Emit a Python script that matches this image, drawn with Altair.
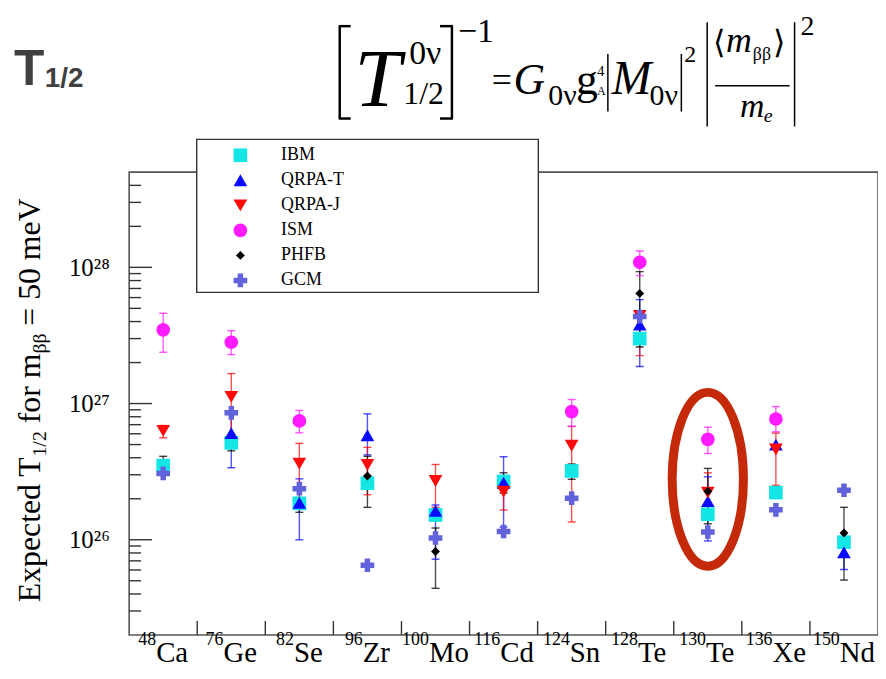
import altair as alt
import pandas as pd

# ---------------- data ----------------
mass_numbers = ["48", "76", "82", "96", "100", "116", "124", "128", "130", "136", "150"]
elements = ["Ca", "Ge", "Se", "Zr", "Mo", "Cd", "Sn", "Te", "Te", "Xe", "Nd"]
isotopes = [m + e for m, e in zip(mass_numbers, elements)]
models = ["IBM", "QRPA-T", "QRPA-J", "ISM", "PHFB", "GCM"]

N = None
ibm_val = [3.50e26, 5.15e26, 1.85e26, 2.60e26, 1.52e26, 2.68e26, 3.20e26, 3.00e27, 1.54e26, 2.22e26, 9.6e25]

qrpat_val = [N, 6.07e26, 1.87e26, 5.85e26, 1.63e26, 2.62e26, N, 3.80e27, 1.92e26, 5.00e26, 8.1e25]
qrpat_lo = [N, 3.38e26, 1.00e26, 4.20e26, 7.2e25, 1.24e26, N, 1.87e27, 9.8e25, N, 6.05e25]
qrpat_hi = [N, 8.50e26, 2.80e26, 8.40e26, 1.80e26, 4.07e26, N, 5.80e27, 2.90e26, N, 1.00e26]

qrpaj_val = [6.30e26, 1.12e27, 3.62e26, 3.55e26, 2.70e26, 2.25e26, 4.90e26, 4.40e27, 2.22e26, 4.60e26, N]
qrpaj_lo = [5.60e26, 5.60e26, 2.04e26, 2.14e26, 1.73e26, 1.65e26, 1.35e26, 2.25e27, 1.60e26, 2.51e26, N]
qrpaj_hi = [6.90e26, 1.66e27, 5.10e26, 4.77e26, 3.57e26, 2.78e26, 6.80e26, 4.60e27, 3.10e26, 6.07e26, N]

ism_val = [3.48e27, 2.82e27, 7.46e26, N, N, N, 8.72e26, 1.09e28, 5.45e26, 7.70e26, N]
ism_lo = [2.38e27, 2.29e27, 6.10e26, N, N, N, 6.80e26, 8.70e27, 4.30e26, 6.20e26, N]
ism_hi = [4.60e27, 3.43e27, 8.90e26, N, N, N, 1.07e27, 1.32e28, 6.70e26, 9.50e26, N]

phfb_val = [N, N, N, 2.94e26, 8.2e25, N, N, 6.44e27, 2.27e26, N, 1.12e26]
phfb_lo = [3.00e26, 4.50e26, 1.59e26, 1.73e26, 4.4e25, 2.20e26, 2.78e26, 2.60e27, 1.31e26, N, 5.06e25]
phfb_hi = [4.10e26, 5.60e26, 2.04e26, 4.10e26, 1.22e26, 3.10e26, 3.60e26, 9.30e27, 3.34e26, N, 1.73e26]

gcm_val = [3.07e26, 8.55e26, 2.37e26, 6.5e25, 1.03e26, 1.15e26, 2.02e26, 4.35e27, 1.14e26, 1.66e26, 2.31e26]

highlight_iso = "130Te"
highlight_center = 2.78e26

major_ticks = [1e26, 1e27, 1e28]
minor_ticks = [3e25, 4e25, 5e25, 6e25, 7e25, 8e25, 9e25,
               2e26, 3e26, 4e26, 5e26, 6e26, 7e26, 8e26, 9e26,
               2e27, 3e27, 4e27, 5e27, 6e27, 7e27, 8e27, 9e27,
               2e28, 3e28, 4e28]

values = {"IBM": ibm_val, "QRPA-T": qrpat_val, "QRPA-J": qrpaj_val,
          "ISM": ism_val, "PHFB": phfb_val, "GCM": gcm_val}
lows = {"QRPA-T": qrpat_lo, "QRPA-J": qrpaj_lo, "ISM": ism_lo, "PHFB": phfb_lo}
highs = {"QRPA-T": qrpat_hi, "QRPA-J": qrpaj_hi, "ISM": ism_hi, "PHFB": phfb_hi}

pts, errs, caps = [], [], []
for m in models:
    for i, iso in enumerate(isotopes):
        v = values[m][i]
        if v is not None:
            pts.append({"iso": iso, "model": m, "value": v})
        if m in lows and lows[m][i] is not None:
            errs.append({"iso": iso, "model": m, "lo": lows[m][i], "hi": highs[m][i]})
            caps.append({"iso": iso, "model": m, "v": lows[m][i]})
            caps.append({"iso": iso, "model": m, "v": highs[m][i]})
pts = pd.DataFrame(pts)
errs = pd.DataFrame(errs)
caps = pd.DataFrame(caps)
legend_df = pd.DataFrame({"model": models, "row": list(range(len(models)))})
one = pd.DataFrame({"a": [0]})

# ---------------- style ----------------
W, H = 754, 466
OX, OY = 130, 171          # page position of the plot area
SERIF = "Liberation Serif"
colors = ["#14e6e6", "#0a0aff", "#ff0a0a", "#ff1aff", "#000000", "#6262dc"]
shapes = ["square", "triangle-up", "triangle-down", "circle", "diamond", "cross"]

xscale = alt.Scale(domain=isotopes, paddingInner=0, paddingOuter=0)
yscale = alt.Scale(type="log", domain=[2e25, 5e28], nice=False)
cscale = alt.Scale(domain=models, range=colors)
sscale = alt.Scale(domain=models, range=shapes)

yaxis = alt.Axis(values=major_ticks, ticks=False, domain=False, grid=False, title=None,
                 labelExpr="'10' + (round(log(datum.value)/LN10)==26 ? '²⁶' : round(log(datum.value)/LN10)==27 ? '²⁷' : '²⁸')",
                 labelFont=SERIF, labelFontSize=25, labelColor="black", labelPadding=20)

X = alt.X("iso:N", scale=xscale, axis=None, sort=isotopes)

frame = alt.Chart(one).mark_rect(fillOpacity=0, stroke="#555555", strokeWidth=1.6).encode(
    x=alt.value(0), x2=alt.value(W), y=alt.value(0), y2=alt.value(H))

xticks = alt.Chart(pd.DataFrame({"iso": isotopes[1:]})).mark_rule(color="#333", strokeWidth=1.4).encode(
    x=alt.X("iso:N", scale=xscale, axis=None, sort=isotopes, bandPosition=0),
    y=alt.value(H), y2=alt.value(H - 14))

ymaj = alt.Chart(pd.DataFrame({"v": major_ticks})).mark_rule(color="#333", strokeWidth=1.4).encode(
    y=alt.Y("v:Q", scale=yscale, axis=yaxis), x=alt.value(0), x2=alt.value(23))
ymin = alt.Chart(pd.DataFrame({"v": minor_ticks})).mark_rule(color="#333", strokeWidth=1.4).encode(
    y=alt.Y("v:Q", scale=yscale, axis=yaxis), x=alt.value(0), x2=alt.value(12))

color_enc = alt.Color("model:N", scale=cscale, legend=None)
shape_enc = alt.Shape("model:N", scale=sscale, legend=None)
size_enc = alt.when(alt.datum.model == "PHFB").then(alt.value(80)).otherwise(alt.value(190))

ebar = alt.Chart(errs).mark_rule(strokeWidth=1.4, opacity=0.7).encode(
    x=X, y=alt.Y("lo:Q", scale=yscale, axis=yaxis), y2="hi:Q", color=color_enc)
ecap = alt.Chart(caps).mark_tick(size=8, thickness=1.4, opacity=0.75).encode(
    x=X, y=alt.Y("v:Q", scale=yscale, axis=yaxis), color=color_enc)

points = alt.Chart(pts).mark_point(filled=True, opacity=1).encode(
    x=X, y=alt.Y("value:Q", scale=yscale, axis=yaxis),
    color=color_enc, shape=shape_enc, size=size_enc)

k = 0.5523
rx = 0.41
ell_path = (f"M 0 -1 C {rx*k:.4f} -1 {rx} -{k} {rx} 0 C {rx} {k} {rx*k:.4f} 1 0 1 "
            f"C -{rx*k:.4f} 1 -{rx} {k} -{rx} 0 C -{rx} -{k} -{rx*k:.4f} -1 0 -1 Z")
ellipse = alt.Chart(pd.DataFrame({"iso": [highlight_iso], "value": [highlight_center]})).mark_point(
    shape=ell_path, size=30625, filled=False, stroke="#c42a0a", strokeWidth=9, opacity=1).encode(
    x=X, y=alt.Y("value:Q", scale=yscale, axis=yaxis))

# x labels: superscript mass number + element symbol, centred on each band
EL_FS, NUM_FS = 29, 18
EL_BASE, NUM_BASE = 664, 647
tnr = {"C": .667, "a": .444, "G": .722, "e": .444, "S": .556, "Z": .611, "r": .333,
       "M": .889, "o": .5, "d": .5, "n": .5, "T": .611, "X": .722, "N": .722}
xlabels = []
for mnum, el, iso in zip(mass_numbers, elements, isotopes):
    el_w = sum(tnr[c] for c in el) * EL_FS
    num_w = 0.5 * len(mnum) * NUM_FS
    off = (num_w - el_w) / 2
    d = pd.DataFrame({"iso": [iso], "num": [mnum], "el": [el]})
    xlabels.append(alt.Chart(d).mark_text(align="left", baseline="alphabetic", font=SERIF,
                                          fontSize=EL_FS, color="black", dx=off).encode(
        x=X, y=alt.value(EL_BASE - OY), text="el:N"))
    xlabels.append(alt.Chart(d).mark_text(align="right", baseline="alphabetic", font=SERIF,
                                          fontSize=NUM_FS, color="black", dx=off).encode(
        x=X, y=alt.value(NUM_BASE - OY), text="num:N"))

main = alt.layer(frame, xticks, ymaj, ymin, ebar, ecap, points, ellipse, *xlabels)

# ---------------- legend box ----------------
LY = alt.Y("row:Q", scale=alt.Scale(domain=[0, 5], range=[154 - OY, 280 - OY]), axis=None)
lbox = alt.Chart(one).mark_rect(fill="white", stroke="#333333", strokeWidth=1.4).encode(
    x=alt.value(198 - OX), x2=alt.value(542 - OX), y=alt.value(138 - OY), y2=alt.value(292 - OY))
lpts = alt.Chart(legend_df).mark_point(filled=True, opacity=1).encode(
    x=alt.value(242 - OX), y=LY, color=color_enc, shape=shape_enc, size=size_enc)
ltxt = alt.Chart(legend_df).mark_text(align="left", baseline="middle", font=SERIF, fontSize=18,
                                      color="black").encode(
    x=alt.value(283 - OX), y=LY, text="model:N")
legend = alt.layer(lbox, lpts, ltxt)


# ---------------- header, axis title & formula ----------------
def txt(s, x, y, size, italic=False, bold=False, font=SERIF, color="black", angle=0):
    return alt.Chart(one).mark_text(
        text=s, align="left", baseline="alphabetic", font=font, fontSize=size, angle=angle,
        fontStyle="italic" if italic else "normal", fontWeight="bold" if bold else "normal",
        color=color).encode(x=alt.value(x - OX), y=alt.value(y - OY))


def vline(x, y1, y2, w=2.0):
    return alt.Chart(one).mark_rule(color="black", strokeWidth=w).encode(
        x=alt.value(x - OX), y=alt.value(y1 - OY), y2=alt.value(y2 - OY))


def hline(x1, x2, y, w=2.0):
    return alt.Chart(one).mark_rule(color="black", strokeWidth=w).encode(
        x=alt.value(x1 - OX), x2=alt.value(x2 - OX), y=alt.value(y - OY))


# rotated y-axis title, built from pieces (main text 32px, subscripts 20px)
TF, SF = 32, 20
Y0 = 604
y1 = Y0 - 4.582 * TF            # after "Expected T"
y2 = y1 - 1.278 * SF - 0.25 * TF  # after "1/2" + space
y3 = y2 - 2.194 * TF            # after "for m"
y4 = y3 - 1.0 * SF - 0.25 * TF    # after "ββ" + space
ytitle = [
    txt("Expected T", 40, Y0, TF, angle=270),
    txt("1/2", 46, y1, SF, angle=270),
    txt("for m", 40, y2, TF, angle=270),
    txt("ββ", 46, y3, SF, angle=270),
    txt("= 50 meV", 40, y4, TF, angle=270),
]

deco = [
    txt("T", 14, 83, 50, bold=True, font="Liberation Sans", color="#404040"),
    txt("1/2", 45, 85, 28, bold=True, font="Liberation Sans", color="#404040"),
    # [ T^{0v}_{1/2} ]^{-1}
    vline(342, 24, 117, 2.5), hline(341, 353, 24, 2.5), hline(341, 353, 117, 2.5),
    txt("T", 357, 104, 84, italic=True),
    txt("0ν", 412, 62, 34),
    txt("1/2", 406, 102, 32),
    vline(455, 24, 117, 2.5), hline(443, 456, 24, 2.5), hline(443, 456, 117, 2.5),
    txt("−1", 461, 40, 34),
    txt("=", 495, 90, 36),
    txt("G", 517, 92, 44, italic=True),
    txt("0ν", 552, 103, 30),
    txt("g", 580, 92, 44),
    txt("4", 601, 74, 15),
    txt("A", 601, 93, 12),
    vline(612, 52, 110, 1.5),
    txt("M", 616, 92, 48, italic=True),
    txt("0ν", 654, 103, 30),
    vline(686, 52, 110, 1.5),
    txt("2", 689, 60, 24),
    vline(712, 20, 125, 1.5),
    txt("⟨", 718, 51, 32),
    txt("m", 731, 50, 36, italic=True),
    txt("ββ", 758, 58, 18),
    txt("⟩", 778, 51, 32),
    hline(720, 795, 84, 1.5),
    txt("m", 745, 115, 34, italic=True),
    txt("e", 769, 121, 20, italic=True),
    vline(800, 20, 125, 1.5),
    txt("2", 806, 33, 28),
]

chart = alt.layer(main, legend, *ytitle, *deco).resolve_scale(y="independent").properties(
    width=W, height=H,
    padding={"left": OX - 8, "top": OY - 8, "right": 0, "bottom": 34},
    autosize=alt.AutoSizeParams(type="none"),
).configure_view(strokeWidth=0)

chart.save("out.html", embed_options={"renderer": "svg", "actions": False})
